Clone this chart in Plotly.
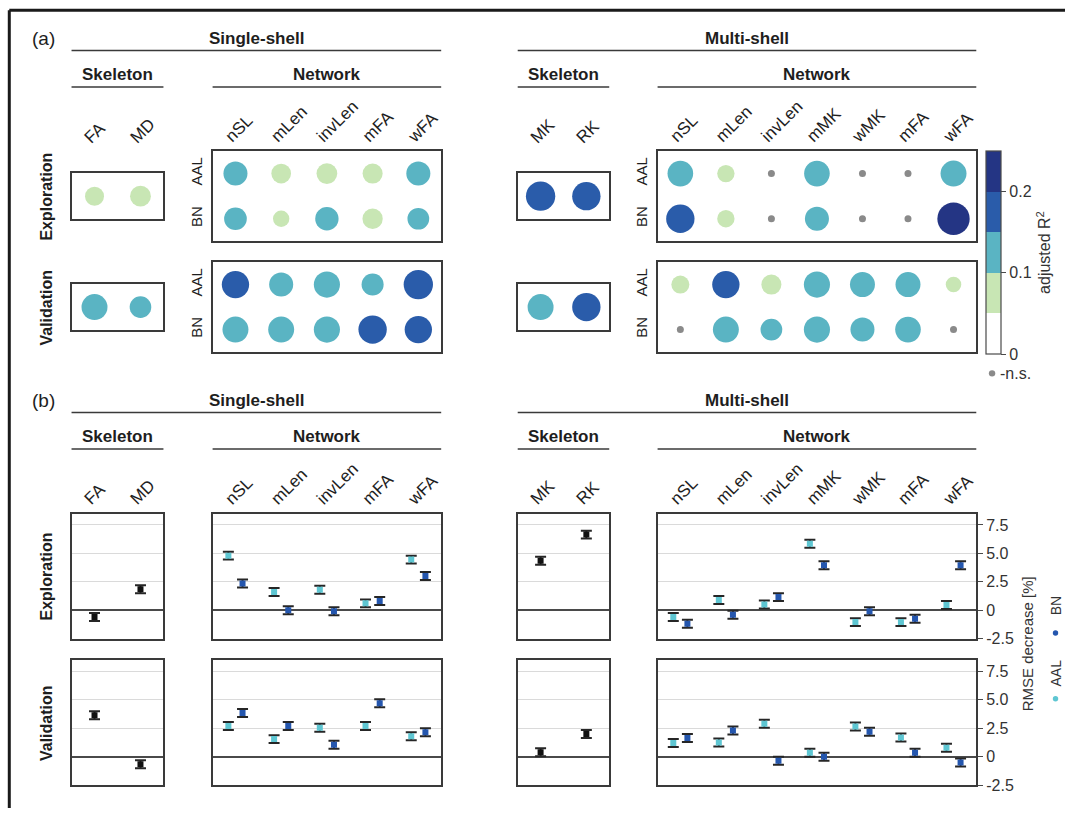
import numpy as np
import plotly.graph_objects as go

W, H = 1066, 817

# ---------------- data ----------------
ss_skel = ["FA", "MD"]
ss_net = ["nSL", "mLen", "invLen", "mFA", "wFA"]
ms_skel = ["MK", "RK"]
ms_net = ["nSL", "mLen", "invLen", "mMK", "wMK", "mFA", "wFA"]
atlas_rows = ["BN", "AAL"]          # bottom row first

# adjusted R² per feature (None = n.s.)
r2_ss_skel_expl = [0.078, 0.094]
r2_ss_net_expl_aal = [0.125, 0.084, 0.093, 0.087, 0.125]
r2_ss_net_expl_bn = [0.111, 0.058, 0.118, 0.089, 0.102]
r2_ss_skel_val = [0.146, 0.101]
r2_ss_net_val_aal = [0.162, 0.125, 0.148, 0.105, 0.186]
r2_ss_net_val_bn = [0.146, 0.146, 0.148, 0.174, 0.162]
r2_ms_skel_expl = [0.186, 0.174]
r2_ms_net_expl_aal = [0.142, 0.065, None, 0.142, None, None, 0.146]
r2_ms_net_expl_bn = [0.174, 0.065, None, 0.125, None, None, 0.226]
r2_ms_skel_val = [0.146, 0.174]
r2_ms_net_val_aal = [0.070, 0.162, 0.087, 0.148, 0.135, 0.135, 0.052]
r2_ms_net_val_bn = [None, 0.146, 0.102, 0.148, 0.125, 0.142, None]

# RMSE decrease [%]
rmse_ss_skel_expl = [-0.6, 1.85]
rmse_ss_net_expl_aal = [4.8, 1.6, 1.8, 0.6, 4.45]
rmse_ss_net_expl_bn = [2.35, 0.0, -0.1, 0.8, 3.0]
rmse_ss_skel_val = [3.65, -0.65]
rmse_ss_net_val_aal = [2.7, 1.55, 2.55, 2.7, 1.8]
rmse_ss_net_val_bn = [3.85, 2.7, 1.05, 4.7, 2.15]
rmse_ms_skel_expl = [4.35, 6.65]
rmse_ms_net_expl_aal = [-0.6, 0.9, 0.5, 5.85, -1.05, -1.05, 0.45]
rmse_ms_net_expl_bn = [-1.2, -0.4, 1.15, 3.95, -0.1, -0.75, 3.95]
rmse_ms_skel_val = [0.4, 2.0]
rmse_ms_net_val_aal = [1.2, 1.25, 2.9, 0.35, 2.65, 1.7, 0.8]
rmse_ms_net_val_bn = [1.65, 2.3, -0.35, 0.0, 2.2, 0.35, -0.5]
rmse_ci = 0.35

r2_ticks = [0, 0.1, 0.2]
r2_ticktext = ["0", "0.1", "0.2"]
rmse_ticks = [-2.5, 0, 2.5, 5, 7.5]
rmse_ticktext = ["-2.5", "0", "2.5", "5.0", "7.5"]

# ---------------- style ----------------
FONT = "Liberation Sans, Arial, sans-serif"
INK = "#1e1e1e"
BOX = "#3a3a3a"
GREEN, TEAL, BLUE, NAVY = "#c8e6b4", "#5ab4c3", "#2a5caa", "#243584"
NS_GRAY = "#8a8a8a"
AAL_COL, BN_COL = "#5ec6d2", "#2456ae"
R2_SCALE = [[0.0, "#ffffff"], [0.2, "#ffffff"], [0.2, GREEN], [0.4, GREEN],
            [0.4, TEAL], [0.6, TEAL], [0.6, BLUE], [0.8, BLUE],
            [0.8, NAVY], [1.0, NAVY]]
LABEL_SHIFT = 0.2   # slanted column labels sit slightly left of their column

# panel extents in pixels
SS_SKEL = (71.6, 163.6)
SS_NET = (212.8, 441.6)
MS_SKEL = (518.2, 609.8)
MS_NET = (658.2, 977.2)
A_EXP_NET = (152.7, 244.0)
A_EXP_SKEL = (175.35, 221.35)
A_VAL_NET = (265.0, 356.0)
A_VAL_SKEL = (287.5, 333.5)
B_EXP = (519.3, 645.7)
B_VAL = (667.3, 794.0)

fig = go.Figure()
axes_layout = {}
annotations = []
shapes = []
n_ax = 0


def new_axes(xpx, ypx, xkw, ykw):
    global n_ax
    n_ax += 1
    k = "" if n_ax == 1 else str(n_ax)
    base = dict(showline=True, mirror=True, linecolor=BOX, linewidth=1.5,
                zeroline=False, showgrid=False, fixedrange=True, ticks="")
    axes_layout["xaxis" + k] = dict(base, domain=[xpx[0] / W, xpx[1] / W],
                                    anchor="y" + k, **xkw)
    axes_layout["yaxis" + k] = dict(base, domain=[1 - ypx[1] / H, 1 - ypx[0] / H],
                                    anchor="x" + k, **ykw)
    return "x" + k, "y" + k


def cat_axis(cats, show, standoff):
    ax = dict(range=[-0.5, len(cats) - 0.5], side="top", showticklabels=show,
              tickvals=[i - LABEL_SHIFT for i in range(len(cats))])
    if show:
        ax.update(ticktext=cats, tickangle=-45, ticklabelstandoff=standoff,
                  tickfont=dict(size=17, color=INK))
    return ax


colorbar_done = [False]


def dot_panel(xpx, ypx, cats, rows, show_cats, standoff, row_labels=None):
    yax = dict(range=[-0.5, len(rows) - 0.5], tickvals=list(range(len(rows))),
               showticklabels=bool(row_labels))
    if row_labels:
        yax.update(ticktext=row_labels, tickangle=-90, ticklabelstandoff=3,
                   tickfont=dict(size=15, color=INK))
    xa, ya = new_axes(xpx, ypx, cat_axis(cats, show_cats, standoff), yax)
    for r, vals in enumerate(rows):
        sig = [(i, v) for i, v in enumerate(vals) if v is not None]
        ns = [i for i, v in enumerate(vals) if v is None]
        marker = dict(size=[68 * np.sqrt(v) for _, v in sig],
                      color=[v for _, v in sig], colorscale=R2_SCALE,
                      cmin=0, cmax=0.25, line=dict(width=0), opacity=1)
        if not colorbar_done[0]:
            colorbar_done[0] = True
            marker.update(showscale=True, colorbar=dict(
                x=987.3 / W, xanchor="left", xpad=0,
                y=1 - 152.7 / H, yanchor="top", ypad=0,
                len=203, lenmode="pixels", thickness=15, thicknessmode="pixels",
                outlinewidth=1.2, outlinecolor="#4a4a4a",
                tickvals=r2_ticks, ticktext=r2_ticktext, ticks="outside",
                ticklen=5, tickcolor="#4a4a4a", tickwidth=1.2,
                tickfont=dict(size=16, color="#333333", family=FONT),
                title=dict(text="adjusted R<sup>2</sup>", side="right",
                           font=dict(size=16, color="#333333", family=FONT))))
        fig.add_trace(go.Scatter(x=[i for i, _ in sig], y=[r] * len(sig),
                                 xaxis=xa, yaxis=ya, mode="markers", marker=marker,
                                 showlegend=False, hoverinfo="skip"))
        if ns:
            fig.add_trace(go.Scatter(x=ns, y=[r] * len(ns), xaxis=xa, yaxis=ya,
                                     mode="markers",
                                     marker=dict(size=7, color=NS_GRAY, line=dict(width=0)),
                                     showlegend=False, hoverinfo="skip"))


def rmse_panel(xpx, ypx, cats, series, show_cats, show_axis):
    yax = dict(range=[-2.5, 8.5], tickvals=rmse_ticks,
               showgrid=True, gridcolor="#dadada", gridwidth=1,
               zeroline=True, zerolinecolor="#4a4a4a", zerolinewidth=1.5,
               side="right", showticklabels=show_axis)
    if show_axis:
        yax.update(ticktext=rmse_ticktext, ticks="outside", ticklen=5,
                   tickcolor="#4a4a4a", tickwidth=1.2,
                   tickfont=dict(size=16, color="#333333"))
    xa, ya = new_axes(xpx, ypx, cat_axis(cats, show_cats, -3), yax)
    for vals, offset, color in series:
        fig.add_trace(go.Scatter(
            x=[i + offset for i in range(len(vals))], y=vals, xaxis=xa, yaxis=ya,
            mode="markers",
            marker=dict(symbol="square", size=6, color=color, line=dict(width=0)),
            error_y=dict(type="constant", value=rmse_ci, color="#262626",
                         thickness=2, width=5.5),
            showlegend=False, hoverinfo="skip"))


# ---------------- (a) adjusted R² ----------------
dot_panel(SS_SKEL, A_EXP_SKEL, ss_skel, [r2_ss_skel_expl], True, 18)
dot_panel(SS_NET, A_EXP_NET, ss_net, [r2_ss_net_expl_bn, r2_ss_net_expl_aal], True, -3, atlas_rows)
dot_panel(MS_SKEL, A_EXP_SKEL, ms_skel, [r2_ms_skel_expl], True, 18)
dot_panel(MS_NET, A_EXP_NET, ms_net, [r2_ms_net_expl_bn, r2_ms_net_expl_aal], True, -3, atlas_rows)
dot_panel(SS_SKEL, A_VAL_SKEL, ss_skel, [r2_ss_skel_val], False, 0)
dot_panel(SS_NET, A_VAL_NET, ss_net, [r2_ss_net_val_bn, r2_ss_net_val_aal], False, 0, atlas_rows)
dot_panel(MS_SKEL, A_VAL_SKEL, ms_skel, [r2_ms_skel_val], False, 0)
dot_panel(MS_NET, A_VAL_NET, ms_net, [r2_ms_net_val_bn, r2_ms_net_val_aal], False, 0, atlas_rows)

# ---------------- (b) RMSE decrease ----------------
OFF = 0.155
rmse_panel(SS_SKEL, B_EXP, ss_skel, [(rmse_ss_skel_expl, 0, "#111111")], True, False)
rmse_panel(SS_NET, B_EXP, ss_net, [(rmse_ss_net_expl_aal, -OFF, AAL_COL),
                                   (rmse_ss_net_expl_bn, OFF, BN_COL)], True, False)
rmse_panel(MS_SKEL, B_EXP, ms_skel, [(rmse_ms_skel_expl, 0, "#111111")], True, False)
rmse_panel(MS_NET, B_EXP, ms_net, [(rmse_ms_net_expl_aal, -OFF, AAL_COL),
                                   (rmse_ms_net_expl_bn, OFF, BN_COL)], True, True)
rmse_panel(SS_SKEL, B_VAL, ss_skel, [(rmse_ss_skel_val, 0, "#111111")], False, False)
rmse_panel(SS_NET, B_VAL, ss_net, [(rmse_ss_net_val_aal, -OFF, AAL_COL),
                                   (rmse_ss_net_val_bn, OFF, BN_COL)], False, False)
rmse_panel(MS_SKEL, B_VAL, ms_skel, [(rmse_ms_skel_val, 0, "#111111")], False, False)
rmse_panel(MS_NET, B_VAL, ms_net, [(rmse_ms_net_val_aal, -OFF, AAL_COL),
                                   (rmse_ms_net_val_bn, OFF, BN_COL)], False, True)


# ---------------- headers and labels ----------------
def text(t, xpx, ypx, size=16, bold=False, angle=0, anchor="center", color=INK):
    annotations.append(dict(
        text=f"<b>{t}</b>" if bold else t, x=xpx / W, y=1 - ypx / H,
        xref="paper", yref="paper", showarrow=False, textangle=angle,
        xanchor=anchor, yanchor="middle",
        font=dict(size=size, family=FONT, color=color)))


def hline(x0, x1, ypx):
    shapes.append(dict(type="line", xref="paper", yref="paper",
                       x0=x0 / W, x1=x1 / W, y0=1 - ypx / H, y1=1 - ypx / H,
                       line=dict(color=BOX, width=1.5)))


def dot(xpx, ypx, r, color):
    shapes.append(dict(type="circle", xref="paper", yref="paper",
                       xsizemode="pixel", ysizemode="pixel",
                       xanchor=xpx / W, yanchor=1 - ypx / H,
                       x0=-r, x1=r, y0=-r, y1=r,
                       fillcolor=color, line=dict(width=0)))


for dy, tag in [(0, "(a)"), (366, "(b)")]:
    text(tag, 30, 38.5 + dy, size=19, anchor="left")
    for (lo, hi), name in [((SS_SKEL[0], SS_NET[1]), "Single-shell"),
                           ((MS_SKEL[0], MS_NET[1]), "Multi-shell")]:
        text(name, (lo + hi) / 2, 38.5 + dy, size=17, bold=True)
        hline(lo, hi, 51 + dy)
    for (lo, hi), name in [(SS_SKEL, "Skeleton"), (SS_NET, "Network"),
                           (MS_SKEL, "Skeleton"), (MS_NET, "Network")]:
        text(name, (lo + hi) / 2, 75.5 + dy, size=17, bold=True)
        hline(lo, hi, 88 + dy)

for (y0, y1), name in [(A_EXP_NET, "Exploration"), (A_VAL_NET, "Validation"),
                       (B_EXP, "Exploration"), (B_VAL, "Validation")]:
    text(name, 46.5, (y0 + y1) / 2, size=16, bold=True, angle=-90)

# n.s. key under the colour bar
dot(993, 377.5, 3.2, NS_GRAY)
text("-n.s.", 999, 378, size=16, anchor="left", color="#333333")

# RMSE axis title and atlas key
text("RMSE decrease [%]", 1028.5, 651, size=15, angle=-90, color="#333333")
text("AAL", 1056.5, 680.5, size=14, angle=-90, color="#333333")
text("BN", 1056.5, 612.5, size=14, angle=-90, color="#333333")
dot(1056.5, 706.5, 2.7, AAL_COL)
dot(1056.5, 640, 2.7, BN_COL)

# outer frame (top and left edges)
shapes.append(dict(type="line", xref="paper", yref="paper", x0=9.3 / W, x1=9.3 / W,
                   y0=0, y1=1 - 10.3 / H, line=dict(color="#1a1a1a", width=3)))
shapes.append(dict(type="line", xref="paper", yref="paper", x0=9.3 / W, x1=1,
                   y0=1 - 10.3 / H, y1=1 - 10.3 / H, line=dict(color="#1a1a1a", width=3)))

fig.update_layout(
    width=W, height=H, margin=dict(l=0, r=0, t=0, b=0),
    paper_bgcolor="white", plot_bgcolor="white", showlegend=False,
    font=dict(family=FONT, color=INK),
    annotations=annotations, shapes=shapes, **axes_layout)

fig.write_html("out.html")
